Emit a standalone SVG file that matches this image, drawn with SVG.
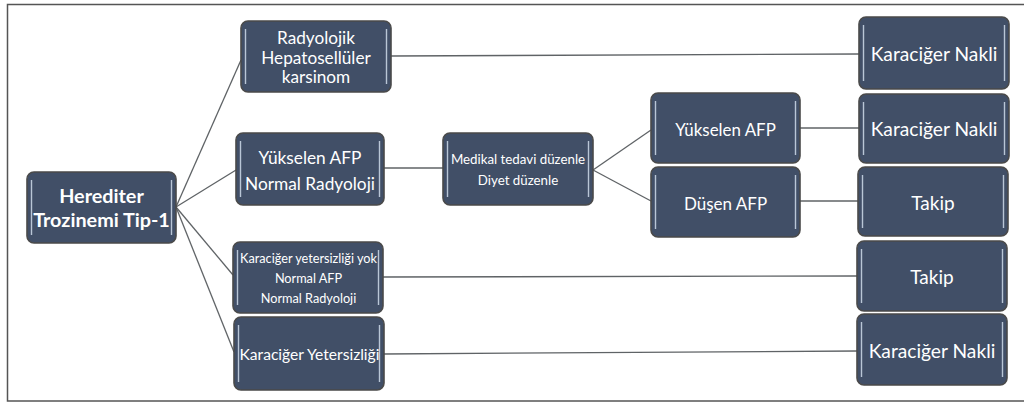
<svg xmlns="http://www.w3.org/2000/svg" width="1024" height="403" viewBox="0 0 1024 403">
<style>
.box{fill:#414f67;stroke:#4a4a4a;stroke-width:1.6}
.bev{stroke:#b9c6d6;stroke-width:1.4;fill:none}
.t{fill:#ffffff;font-family:Lato,"Open Sans",sans-serif;text-anchor:middle;dominant-baseline:central}
.conn line{stroke:#5f6366;stroke-width:1.3}
</style>
<rect x="0" y="0" width="1024" height="403" fill="#ffffff"/>
<path d="M1024 4.5 H7.5 V401 H1024" fill="none" stroke="#555" stroke-width="1.5"/>
<g class="conn">
<line x1="176" y1="207" x2="241" y2="60"/>
<line x1="176" y1="207" x2="236" y2="170"/>
<line x1="176" y1="207" x2="233" y2="275"/>
<line x1="176" y1="207" x2="234" y2="352"/>
<line x1="391" y1="56" x2="859" y2="54"/>
<line x1="384" y1="168" x2="443" y2="168"/>
<line x1="593" y1="170" x2="651" y2="130"/>
<line x1="593" y1="170" x2="651" y2="201"/>
<line x1="800" y1="128" x2="859" y2="128"/>
<line x1="800" y1="201" x2="859" y2="201"/>
<line x1="383" y1="277" x2="857" y2="276"/>
<line x1="384" y1="354" x2="857" y2="351"/>
</g>
<g id="n-herediter">
<rect class="box" x="27" y="172" width="149" height="71" rx="7"/>
<path class="bev" d="M31.5 180 V235 M171.5 180 V235"/>
<text class="t" x="101.5" y="195" font-size="19.8" font-weight="bold">Herediter</text>
<text class="t" x="101.5" y="219" font-size="19.8" font-weight="bold">Trozinemi Tip-1</text>
</g>
<g id="n-radyolojik">
<rect class="box" x="241" y="21" width="150" height="71" rx="7"/>
<path class="bev" d="M245.5 29 V84 M386.5 29 V84"/>
<text class="t" x="316" y="37" font-size="17.2">Radyolojik</text>
<text class="t" x="316" y="57" font-size="17.2">Hepatosellüler</text>
<text class="t" x="316" y="76" font-size="17.2">karsinom</text>
</g>
<g id="n-yukselen1">
<rect class="box" x="236" y="133" width="148" height="72" rx="7"/>
<path class="bev" d="M240.5 141 V197 M379.5 141 V197"/>
<text class="t" x="310" y="157" font-size="17.3">Yükselen AFP</text>
<text class="t" x="310" y="183" font-size="17.3">Normal Radyoloji</text>
</g>
<g id="n-yok">
<rect class="box" x="233" y="242" width="150" height="71" rx="7"/>
<path class="bev" d="M237.5 250 V305 M378.5 250 V305"/>
<text class="t" x="308.5" y="258" font-size="12.7">Karaciğer yetersizliği yok</text>
<text class="t" x="308.5" y="278" font-size="12.7">Normal AFP</text>
<text class="t" x="308.5" y="298" font-size="12.7">Normal Radyoloji</text>
</g>
<g id="n-yetersizlik">
<rect class="box" x="234" y="317" width="150" height="73" rx="7"/>
<path class="bev" d="M238.5 325 V382 M379.5 325 V382"/>
<text class="t" x="309.5" y="354" font-size="15.6">Karaciğer Yetersizliği</text>
</g>
<g id="n-medikal">
<rect class="box" x="443" y="133" width="150" height="72" rx="7"/>
<path class="bev" d="M447.5 141 V197 M588.5 141 V197"/>
<text class="t" x="518" y="159" font-size="13.3">Medikal tedavi düzenle</text>
<text class="t" x="518" y="180" font-size="13.3">Diyet düzenle</text>
</g>
<g id="n-yukselen2">
<rect class="box" x="651" y="93" width="149" height="70" rx="7"/>
<path class="bev" d="M655.5 101 V155 M795.5 101 V155"/>
<text class="t" x="725.5" y="129" font-size="16.9">Yükselen AFP</text>
</g>
<g id="n-dusen">
<rect class="box" x="651" y="167" width="149" height="70" rx="7"/>
<path class="bev" d="M655.5 175 V229 M795.5 175 V229"/>
<text class="t" x="725.5" y="203" font-size="17">Düşen AFP</text>
</g>
<g id="n-nakli1">
<rect class="box" x="859" y="17" width="150" height="72" rx="7"/>
<path class="bev" d="M863.5 25 V81 M1004.5 25 V81"/>
<text class="t" x="934" y="53" font-size="19.2">Karaciğer Nakli</text>
</g>
<g id="n-nakli2">
<rect class="box" x="859" y="94" width="150" height="69" rx="7"/>
<path class="bev" d="M863.5 102 V155 M1004.5 102 V155"/>
<text class="t" x="934" y="128" font-size="19.2">Karaciğer Nakli</text>
</g>
<g id="n-takip1">
<rect class="box" x="858" y="167" width="150" height="69" rx="7"/>
<path class="bev" d="M862.5 175 V228 M1003.5 175 V228"/>
<text class="t" x="933" y="202" font-size="19">Takip</text>
</g>
<g id="n-takip2">
<rect class="box" x="857" y="241" width="150" height="70" rx="7"/>
<path class="bev" d="M861.5 249 V303 M1002.5 249 V303"/>
<text class="t" x="932" y="276" font-size="19">Takip</text>
</g>
<g id="n-nakli3">
<rect class="box" x="857" y="314" width="150" height="71" rx="7"/>
<path class="bev" d="M861.5 322 V377 M1002.5 322 V377"/>
<text class="t" x="932" y="350" font-size="19.2">Karaciğer Nakli</text>
</g>
</svg>
